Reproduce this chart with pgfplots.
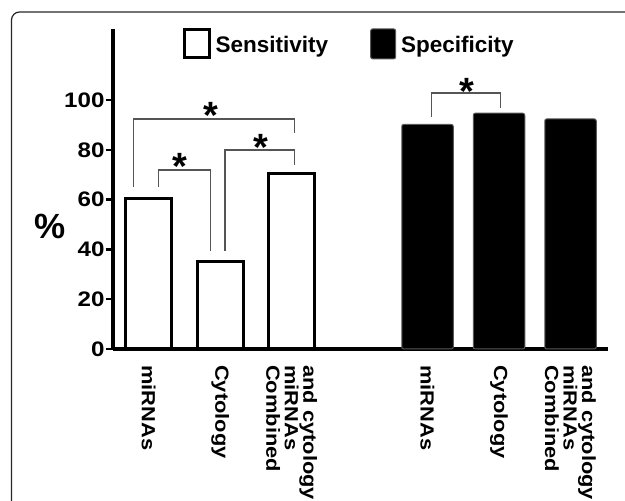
\documentclass[border=0pt]{standalone}
\usepackage{pgfplots}
\pgfplotsset{compat=1.18}
\usepackage{fontspec}
\setmainfont{Liberation Sans}
\newfontfamily\labfont[FakeStretch=1.15]{Liberation Sans}
\definecolor{brk}{HTML}{555555}
\begin{document}
\begin{tikzpicture}[x=1pt,y=1pt]
\begin{scope}
\clip (0,0) rectangle (625,501);
\draw[rounded corners=8pt, line width=1.2pt, color=black!85] (11.5,-30) rectangle (680,489);
\begin{axis}[
  at={(112.7pt,152pt)}, anchor=south west,
  scale only axis,
  x=71.5pt, y=2.49pt,
  xmin=-0.503, xmax=6.42, ymin=0, ymax=128.5,
  axis x line=bottom, axis y line=left,
  x axis line style={line width=3.5pt, -},
  y axis line style={line width=4pt, -},
  /pgf/number format/assume math mode=true,
  ytick={0,20,40,60,80,100},
  xtick={0,1,2,3.9,4.9,5.9},
  xticklabels={miRNAs, Cytology, {and cytology\\miRNAs\\Combined}, miRNAs, Cytology, {and cytology\\miRNAs\\Combined}},
  tick align=outside,
  major tick length=7pt,
  y tick style={line width=2.5pt, black},
  x tick style={draw=none},
  yticklabel style={font=\labfont\fontsize{21}{21}\selectfont\bfseries, inner sep=1pt},
  xticklabel style={font=\labfont\fontsize{19}{18.5}\selectfont\bfseries, rotate=-90, anchor=west, align=left, inner sep=0pt},
  xticklabel shift=9pt,
  ylabel={\%},
  every axis y label/.style={at={(rel axis cs:-0.1266,0.382)}, anchor=center, font=\fontsize{35}{35}\selectfont\bfseries},
  legend columns=2,
  legend style={at={(rel axis cs:0.1425,1.002)}, anchor=north west, draw=none, fill=none, inner sep=0pt, outer sep=0pt,
    font=\fontsize{22.5}{22.5}\selectfont\bfseries,
    nodes={inner sep=0pt},
    /tikz/every odd column/.append style={column sep=5pt},
    /tikz/every even column/.append style={column sep=42pt}},
  clip=false,
]
\addplot[ybar, bar width=46.3pt, bar shift=0pt, fill=white, draw=black, line width=3pt,
  legend image code/.code={\draw[line width=3pt, black, fill=white] (0pt,-12.5pt) rectangle (24.4pt,15.5pt);}]
  coordinates {(0,60.3) (1,35) (2,70.6)};
\addlegendentry{Sensitivity}
\addplot[ybar, bar width=51.5pt, bar shift=0pt, fill=black, draw=black!65, line width=1pt, rounded corners=2pt,
  legend image code/.code={\draw[line width=1pt, black!65, fill=black, rounded corners=2pt] (0pt,-13.5pt) rectangle (25pt,16.5pt);}]
  coordinates {(3.9,90.2) (4.9,94.7) (5.9,92.4)};
\addlegendentry{Specificity}
% significance brackets
\addplot[brk, line width=1.5pt, forget plot] coordinates {(-0.215,65.2) (-0.215,92.3) (2.037,92.3) (2.037,86.6)};
\addplot[brk, line width=1.5pt, forget plot] coordinates {(0.135,65.2) (0.135,71.9) (0.868,71.9) (0.868,39.5)};
\addplot[brk, line width=1.5pt, forget plot] coordinates {(1.068,39.5) (1.068,79.9) (2.037,79.9) (2.037,73.9)};
\addplot[brk, line width=1.5pt, forget plot] coordinates {(3.959,93.1) (3.959,102.9) (4.924,102.9) (4.924,96.7)};
\node[anchor=base, inner sep=0pt, yshift=-21.5pt, font=\fontsize{38}{38}\selectfont\bfseries] at (axis cs:0.868,97.1) {*};
\node[anchor=base, inner sep=0pt, yshift=-21.5pt, font=\fontsize{38}{38}\selectfont\bfseries] at (axis cs:0.438,76.6) {*};
\node[anchor=base, inner sep=0pt, yshift=-21.5pt, font=\fontsize{38}{38}\selectfont\bfseries] at (axis cs:1.567,84.2) {*};
\node[anchor=base, inner sep=0pt, yshift=-21.5pt, font=\fontsize{38}{38}\selectfont\bfseries] at (axis cs:4.448,107) {*};
\end{axis}
\end{scope}
\pgfresetboundingbox
\path[use as bounding box] (0,0) rectangle (625,501);
\end{tikzpicture}
\end{document}
